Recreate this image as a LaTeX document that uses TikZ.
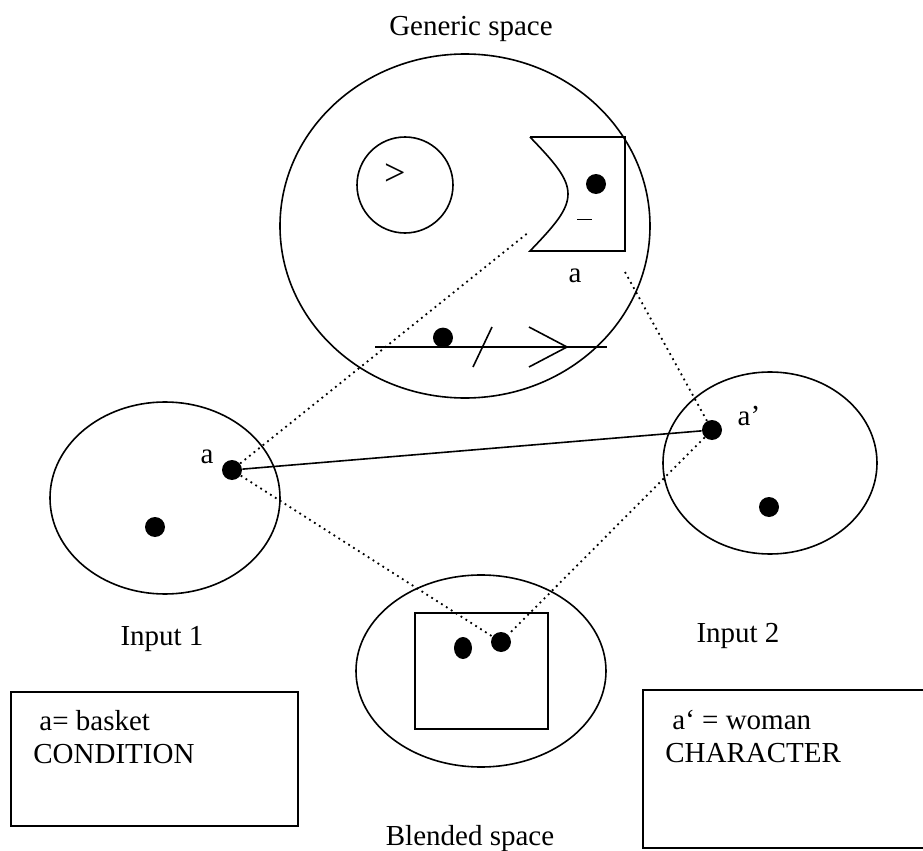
\documentclass[tikz,border=0pt]{standalone}
\usepackage{fontspec}
\setmainfont{Liberation Serif}
\usetikzlibrary{shapes.geometric,positioning}
\tikzset{
    space/.style={ellipse,draw,line width=0.8pt,inner sep=0pt},
    point/.style={circle,fill,inner sep=0pt,minimum size=10pt},
    lbl/.style={anchor=base,inner sep=0pt,font=\fontsize{14.5}{17}\selectfont},
    txt/.style={anchor=base west,inner sep=0pt,font=\fontsize{14.5}{17}\selectfont},
    link/.style={line width=0.8pt},
    map/.style={dotted,line width=0.9pt},
    legend/.style={draw,line width=0.6pt}
}

\begin{document}
\begin{tikzpicture}[x=0.5pt,y=-0.5pt]
    \useasboundingbox (0,0) rectangle (923,851);

    % the four spaces
    \node[space,minimum width=185pt,minimum height=172pt] (generic) at (465,226) {};
    \node[space,minimum width=115pt,minimum height=96pt]  (input 1) at (165,498) {};
    \node[space,minimum width=107pt,minimum height=91pt]  (input 2) at (770,463) {};
    \node[space,minimum width=125pt,minimum height=96pt]  (blended) at (481,671) {};

    \node[lbl] (generic label) at (471,35)  {Generic space};
    \node[lbl] (input 1 label) at (162,645) {Input 1};
    \node[lbl] (input 2 label) at (738,642) {Input 2};
    \node[lbl] (blended label) at (470,845) {Blended space};

    % generic space contents
    \node[circle,draw,line width=0.8pt,minimum size=48pt,inner sep=0pt] (ring) at (405,185) {};
    \node[lbl,anchor=center,font=\fontsize{19}{22}\selectfont] (greater) at (395,175) {>};
    \draw[link] (530,137) -- (625,137) -- (625,251) -- (530,251)
        .. controls (555,225) and (568,210) .. (568,194)
        .. controls (568,178) and (555,163) .. (530,137);
    \node[point] (gen dot) at (596,184) {};
    \draw[line width=0.5pt] (577,219) -- (592,219);
    \node[lbl] (gen a) at (575,282) {a};
    \coordinate (gen start) at (375,347);
    \coordinate (gen end)   at (607,347);
    \draw[link] (gen start) -- (gen end);
    \node[point,anchor=south] (line dot) at (443,348) {};
    \draw[link] (473,367) -- (492,327);
    \draw[link] (529,327) -- (567,347) -- (529,367);

    % inputs and blend
    \node[point] (a1) at (232,470) {};
    \node[lbl] (a1 label) at (207,463) {a};
    \node[point] (p1) at (155,527) {};
    \node[point] (a2) at (712,430) {};
    \node[lbl] (a2 label) at (749,425) {a’};
    \node[point] (p2) at (769,507) {};
    \draw[link] (415,613) rectangle (548,729);
    \node[point,minimum width=9pt,minimum height=11pt,ellipse] (b1) at (463,648) {};
    \node[point] (b2) at (501,642) {};

    % mappings
    \coordinate (g1) at (529,232);
    \coordinate (g2) at (625,272);
    \draw[map] (a1) -- (g1);
    \draw[map] (g2) -- (a2);
    \draw[link] (a1) -- (a2);
    \draw[map] (a1) -- (b2);
    \draw[map] (a2) -- (b2);

    % legends
    \draw[legend] (11,692) rectangle (298,826);
    \node[txt] (cond a) at (39,730) {a= basket};
    \node[txt] (cond)   at (33,763) {CONDITION};
    \draw[legend] (643,690) rectangle (930,848);
    \node[txt] (char a) at (672,729) {a‘ = woman};
    \node[txt] (char)   at (665,762) {CHARACTER};
\end{tikzpicture}
\end{document}
